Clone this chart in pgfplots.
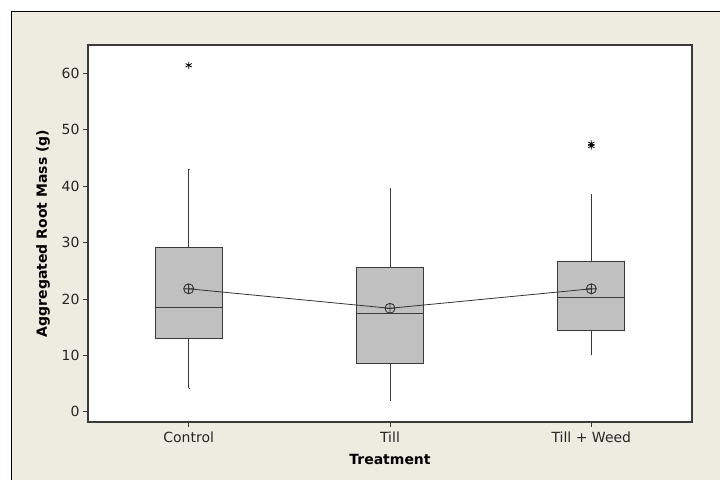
\documentclass[border=0pt]{standalone}
\usepackage{pgfplots}
\pgfplotsset{compat=1.18}
\usepgfplotslibrary{statistics}
\usepackage{fontspec}
\setmainfont{DejaVu Sans}

\definecolor{panel}{HTML}{EEEBE1}
\definecolor{boxfill}{HTML}{C0C0C0}
\definecolor{edge}{HTML}{3A3A3A}

\begin{document}
\begin{tikzpicture}
\useasboundingbox (0,0) rectangle (720bp,480bp);
\fill[white] (0,0) rectangle (720bp,480bp);
\filldraw[fill=panel, draw=black, line width=1bp] (11bp,-5bp) rectangle (725bp,468bp);
\begin{axis}[
    at={(88bp,58bp)}, anchor=south west,
    scale only axis, width=604bp, height=377bp,
    xmin=0.5, xmax=3.5, ymin=-1.8, ymax=65,
    axis background/.style={fill=white},
    axis line style={draw=edge, line width=1.2bp},
    xtick={1,2,3}, xticklabels={Control, Till, Till + Weed},
    ytick={0,10,...,60},
    tick align=outside, xtick pos=bottom, ytick pos=left,
    major tick length=5bp,
    tick style={draw=edge, line width=0.8bp},
    font=\fontsize{14bp}{16bp}\selectfont,
    ticklabel style={font=\fontsize{14bp}{16bp}\selectfont, text=black!85},
    xticklabel style={yshift=-1bp},
    /pgf/number format/assume math mode=true,
    xlabel={\textbf{Treatment}},
    ylabel={\textbf{Aggregated Root Mass (g)}},
    xlabel style={yshift=-5bp},
    ylabel style={yshift=5bp},
    boxplot/draw direction=y,
]
\addplot[boxplot prepared={draw position=1, lower whisker=4.2, lower quartile=13.0,
    median=18.5, upper quartile=29.1, upper whisker=43.0,
    box extend=0.333, whisker extend=0.001},
    fill=boxfill, draw=edge, line width=0.9bp, mark=asterisk,
    mark options={black, mark size=3.5bp, line width=0.8bp}]
    table[row sep=\\, y index=0] {y\\ 61.4\\};
\addplot[boxplot prepared={draw position=2, lower whisker=1.95, lower quartile=8.6,
    median=17.5, upper quartile=25.5, upper whisker=39.6,
    box extend=0.333, whisker extend=0.001},
    fill=boxfill, draw=edge, line width=0.9bp]
    coordinates {};
\addplot[boxplot prepared={draw position=3, lower whisker=10.1, lower quartile=14.4,
    median=20.2, upper quartile=26.7, upper whisker=38.6,
    box extend=0.333, whisker extend=0.001},
    fill=boxfill, draw=edge, line width=0.9bp, mark=asterisk,
    mark options={black, mark size=3.5bp, line width=0.8bp}]
    table[row sep=\\, y index=0] {y\\ 47.1\\ 47.5\\};
\addplot[black!80, line width=0.8bp, mark=oplus,
    mark options={mark size=5bp, line width=0.9bp, fill=none}]
    coordinates {(1,21.8) (2,18.35) (3,21.8)};
\end{axis}
\end{tikzpicture}
\end{document}
